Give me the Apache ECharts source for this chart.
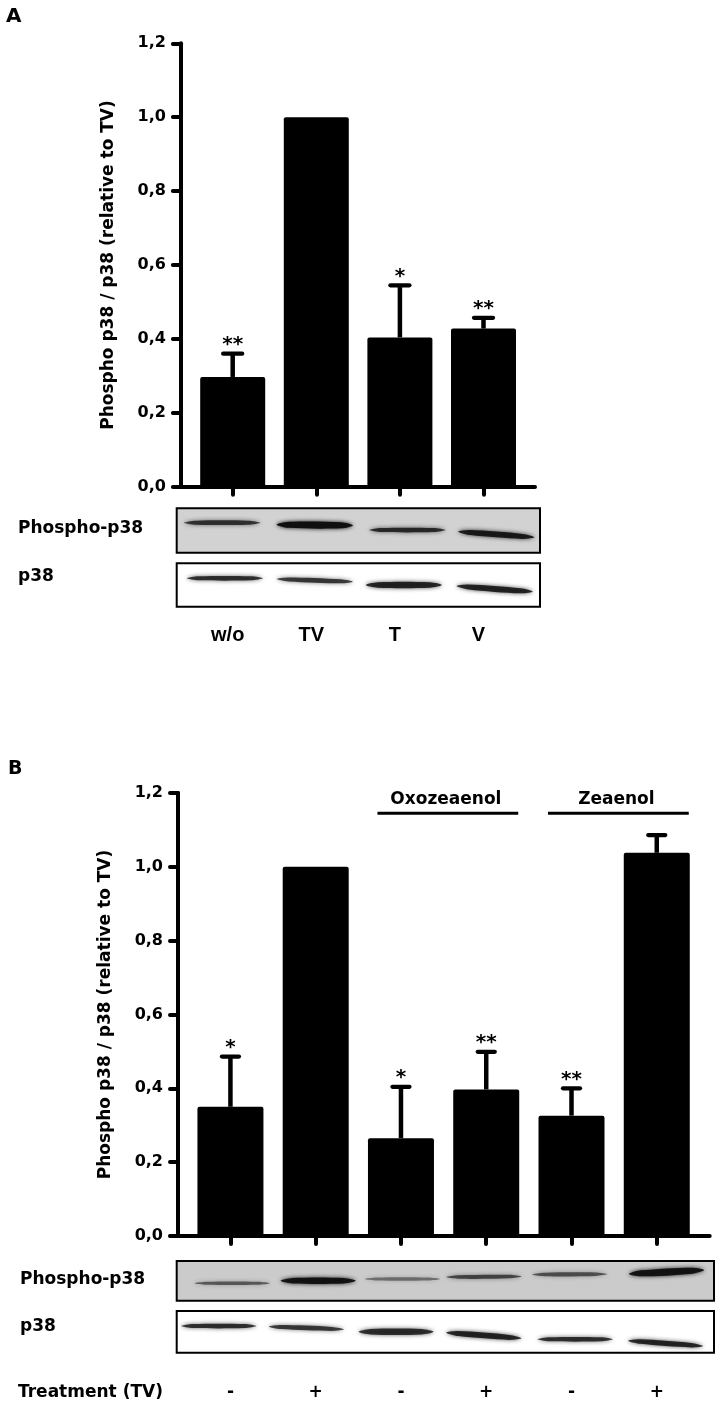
<!DOCTYPE html>
<html>
<head>
<meta charset="utf-8">
<script src="https://cdn.jsdelivr.net/npm/echarts@6/dist/echarts.min.js"></script>
<style>
html,body{margin:0;padding:0;background:#fff;}
#c{width:722px;height:1413px;}
</style>
</head>
<body>
<div id="c"></div>
<script>
// ---------- data ----------
const yTickLabels = ['0,0', '0,2', '0,4', '0,6', '0,8', '1,0', '1,2'];
const yTitle = 'Phospho p38 / p38 (relative to TV)';

const catsA = ['w/o', 'TV', 'T', 'V'];
const meanA = [0.297, 1.0, 0.404, 0.428];
const errTopA = [0.36, null, 0.545, 0.457];
const sigA = ['**', '', '*', '**'];

const catsB = ['-', '+', '-', '+', '-', '+'];
const meanB = [0.35, 1.0, 0.265, 0.397, 0.326, 1.038];
const errTopB = [0.486, null, 0.404, 0.499, 0.40, 1.086];
const sigB = ['*', '', '*', '**', '**', ''];
const groupNamesB = ['Oxozeaenol', 'Zeaenol'];
const groupFromB = [2, 4];
const groupToB = [3, 5];

// western blot bands: [lane, yStart(0-1), yEnd(0-1), thickness, intensity, shift(lane frac)]
const blotA_phospho = [[0, 0.324, 0.324, 4, 0.75, 0], [1, 0.37, 0.385, 6, 1.0, 0.02], [2, 0.489, 0.489, 4, 0.8, 0.04], [3, 0.527, 0.653, 5, 0.9, 0.02]];
const blotA_p38 = [[0, 0.346, 0.346, 4, 0.8, 0.03], [1, 0.362, 0.424, 4, 0.75, 0.02], [2, 0.5, 0.5, 5.5, 0.85, 0.0], [3, 0.523, 0.654, 5, 0.85, 0.0]];
const blotB_phospho = [[0, 0.562, 0.562, 3, 0.55, 0.12], [1, 0.5, 0.5, 5.5, 0.95, 0.08], [2, 0.453, 0.453, 3, 0.45, 0.02], [3, 0.405, 0.39, 3.5, 0.65, -0.07], [4, 0.34, 0.33, 3.5, 0.6, -0.11], [5, 0.327, 0.227, 6, 0.95, -0.03]];
const blotB_p38 = [[0, 0.36, 0.36, 4, 0.8, -0.03], [1, 0.376, 0.439, 4, 0.75, -0.05], [2, 0.496, 0.496, 5.5, 0.8, -0.05], [3, 0.52, 0.655, 5, 0.85, -0.07], [4, 0.679, 0.679, 4, 0.8, -0.05], [5, 0.712, 0.839, 4.5, 0.85, -0.04]];

// ---------- helpers ----------
const FONT = 'DejaVu Sans';
const BLACK = '#000';

function yAxisCfg(gridIndex, offset) {
  return {
    gridIndex, type: 'value', min: 0, max: 1.2, interval: 0.2, offset,
    axisLine: {show: true, lineStyle: {color: BLACK, width: 4, cap: 'round'}},
    axisTick: {show: true, length: 8, lineStyle: {color: BLACK, width: 4, cap: 'round'}},
    axisLabel: {
      margin: 15, color: BLACK, fontFamily: FONT, fontWeight: 'bold', fontSize: 16,
      formatter: v => yTickLabels[Math.round(v / 0.2)]
    },
    splitLine: {show: false},
    name: yTitle, nameLocation: 'middle', nameGap: 64,
    nameTextStyle: {color: BLACK, fontFamily: FONT, fontWeight: 'bold', fontSize: 17}
  };
}
function xCatCfg(gridIndex, cats, labelStyle) {
  return {
    gridIndex, type: 'category', data: cats,
    axisLine: {show: false},
    axisTick: {show: true, alignWithLabel: true, length: 8, lineStyle: {color: BLACK, width: 4, cap: 'round'}},
    axisLabel: Object.assign({color: BLACK, fontWeight: 'bold'}, labelStyle),
    splitLine: {show: false}
  };
}
function lineOnlyX(gridIndex) {
  return {
    gridIndex, type: 'value', min: 0, max: 1,
    axisLine: {show: true, lineStyle: {color: BLACK, width: 4, cap: 'round'}},
    axisTick: {show: false}, axisLabel: {show: false}, splitLine: {show: false}
  };
}
function hiddenY(gridIndex, inverse) {
  return {gridIndex, type: 'value', min: 0, max: 1, inverse: !!inverse, show: false, splitLine: {show: false}};
}
function hiddenCatX(gridIndex, n) {
  return {gridIndex, type: 'category', data: Array.from({length: n}, (_, i) => i), show: false};
}

function errSeries(axisIdx, means, tops, sigs, capHalf) {
  const data = [];
  means.forEach((m, i) => { if (tops[i] != null) data.push([i, m, tops[i]]); });
  return {
    type: 'custom', xAxisIndex: axisIdx, yAxisIndex: axisIdx, z: 5,
    data,
    renderItem: (params, api) => {
      const i = api.value(0);
      const p0 = api.coord([i, api.value(1)]);
      const p1 = api.coord([i, api.value(2)]);
      return {
        type: 'group',
        children: [
          {type: 'line', shape: {x1: p0[0], y1: p0[1], x2: p1[0], y2: p1[1]}, style: {stroke: BLACK, lineWidth: 4.5}},
          {type: 'line', shape: {x1: p1[0] - capHalf, y1: p1[1], x2: p1[0] + capHalf, y2: p1[1]}, style: {stroke: BLACK, lineWidth: 4.3, lineCap: 'round'}},
          {type: 'text', x: p1[0], y: p1[1] - 9, style: {text: sigs[i], fill: BLACK, font: 'bold 20px ' + FONT, align: 'center', verticalAlign: 'middle'}}
        ]
      };
    }
  };
}

function bandSeries(axisIdx, bands) {
  return {
    type: 'custom', xAxisIndex: axisIdx, yAxisIndex: axisIdx, z: 3, silent: true,
    data: bands,
    renderItem: (params, api) => {
      const lane = api.value(0);
      const w = api.size([1, 0])[0];
      const xc = api.coord([lane, 0])[0] + api.value(5) * w;
      const ya = api.coord([lane, api.value(1)])[1];
      const yb = api.coord([lane, api.value(2)])[1];
      const th = api.value(3) / 2;
      const a = api.value(4);
      const half = w * 0.42;
      const xl = xc - half, xr = xc + half, t = 12;
      const yAt = x => ya + (yb - ya) * (x - xl) / (xr - xl);
      const pts = [
        [xl, yAt(xl)],
        [xl + t, yAt(xl + t) - th],
        [xr - t, yAt(xr - t) - th],
        [xr, yAt(xr)],
        [xr - t, yAt(xr - t) + th],
        [xl + t, yAt(xl + t) + th]
      ];
      const col = 'rgba(15,15,15,' + a + ')';
      return {type: 'polygon', shape: {points: pts, smooth: 0.3}, style: {fill: col, shadowBlur: 4, shadowColor: col}};
    }
  };
}

function groupSeries(axisIdx) {
  return {
    type: 'custom', xAxisIndex: axisIdx, yAxisIndex: axisIdx, z: 5,
    data: groupFromB.map((f, i) => [f, groupToB[i]]),
    renderItem: (params, api) => {
      const a = api.coord([api.value(0), 1.145]);
      const b = api.coord([api.value(1), 1.145]);
      const x1 = a[0] - 23.5, x2 = b[0] + 32;
      return {
        type: 'group',
        children: [
          {type: 'line', shape: {x1, y1: a[1], x2, y2: a[1]}, style: {stroke: BLACK, lineWidth: 3}},
          {type: 'text', x: (x1 + x2) / 2 - 2, y: a[1] - 5, style: {text: groupNamesB[params.dataIndex], fill: BLACK, font: 'bold 17px ' + FONT, align: 'center', verticalAlign: 'bottom'}}
        ]
      };
    }
  };
}

// ---------- layout ----------
const grids = [
  {left: 190.9, width: 334.4, top: 43.3, height: 443.4},            // 0 A bars
  {left: 175, width: 360, top: 43.3, height: 443.4},                // 1 A x-axis line
  {left: 176.7, width: 363.3, top: 508.3, height: 44.4, show: true, backgroundColor: '#d2d2d2', borderColor: BLACK, borderWidth: 2}, // 2 A phospho blot
  {left: 176.7, width: 363.3, top: 563.3, height: 43.4, show: true, backgroundColor: '#ffffff', borderColor: BLACK, borderWidth: 2}, // 3 A p38 blot
  {left: 187.8, width: 511.6, top: 793, height: 443},               // 4 B bars
  {left: 170.5, width: 539.2, top: 793, height: 443},               // 5 B x-axis line
  {left: 176.7, width: 537.3, top: 1261, height: 39.7, show: true, backgroundColor: '#cbcbcb', borderColor: BLACK, borderWidth: 2}, // 6 B phospho blot
  {left: 176.7, width: 537.3, top: 1311, height: 41.7, show: true, backgroundColor: '#ffffff', borderColor: BLACK, borderWidth: 2}  // 7 B p38 blot
].map(g => Object.assign({containLabel: false}, g));

const xAxes = [
  xCatCfg(0, catsA, {margin: 139, fontFamily: 'Liberation Sans', fontSize: 20, padding: [0, 10, 0, 0]}),
  lineOnlyX(1),
  hiddenCatX(2, 4),
  hiddenCatX(3, 4),
  xCatCfg(4, catsB, {margin: 148, fontFamily: FONT, fontSize: 17}),
  lineOnlyX(5),
  hiddenCatX(6, 6),
  hiddenCatX(7, 6)
];
const yAxes = [
  yAxisCfg(0, 10),
  hiddenY(1),
  hiddenY(2, true),
  hiddenY(3, true),
  yAxisCfg(4, 9.8),
  hiddenY(5),
  hiddenY(6, true),
  hiddenY(7, true)
];

const txt = (text, x, y, size, va, family) => ({
  type: 'text', x, y, style: {text, fill: BLACK, font: 'bold ' + size + 'px ' + (family || FONT), verticalAlign: va || 'middle'}
});

const option = {
  animation: false,
  backgroundColor: '#fff',
  grid: grids,
  xAxis: xAxes,
  yAxis: yAxes,
  graphic: [
    txt('A', 6, 17, 20),
    txt('Phospho-p38', 18, 529, 17),
    txt('p38', 18, 577, 17),
    txt('B', 8, 769, 19),
    txt('Phospho-p38', 20, 1280, 17),
    txt('p38', 20, 1327, 17),
    txt('Treatment (TV)', 18, 1393, 17)
  ],
  series: [
    {type: 'bar', xAxisIndex: 0, yAxisIndex: 0, data: meanA, barWidth: 65, itemStyle: {color: BLACK, borderRadius: 2}, z: 4},
    errSeries(0, meanA, errTopA, sigA, 9.5),
    bandSeries(2, blotA_phospho),
    bandSeries(3, blotA_p38),
    {type: 'bar', xAxisIndex: 4, yAxisIndex: 4, data: meanB, barWidth: 66, itemStyle: {color: BLACK, borderRadius: 2}, z: 4},
    errSeries(4, meanB, errTopB, sigB, 8.5),
    groupSeries(4),
    bandSeries(6, blotB_phospho),
    bandSeries(7, blotB_p38)
  ]
};

const chart = echarts.init(document.getElementById('c'), null, {renderer: 'canvas'});
chart.setOption(option);
</script>
</body>
</html>
